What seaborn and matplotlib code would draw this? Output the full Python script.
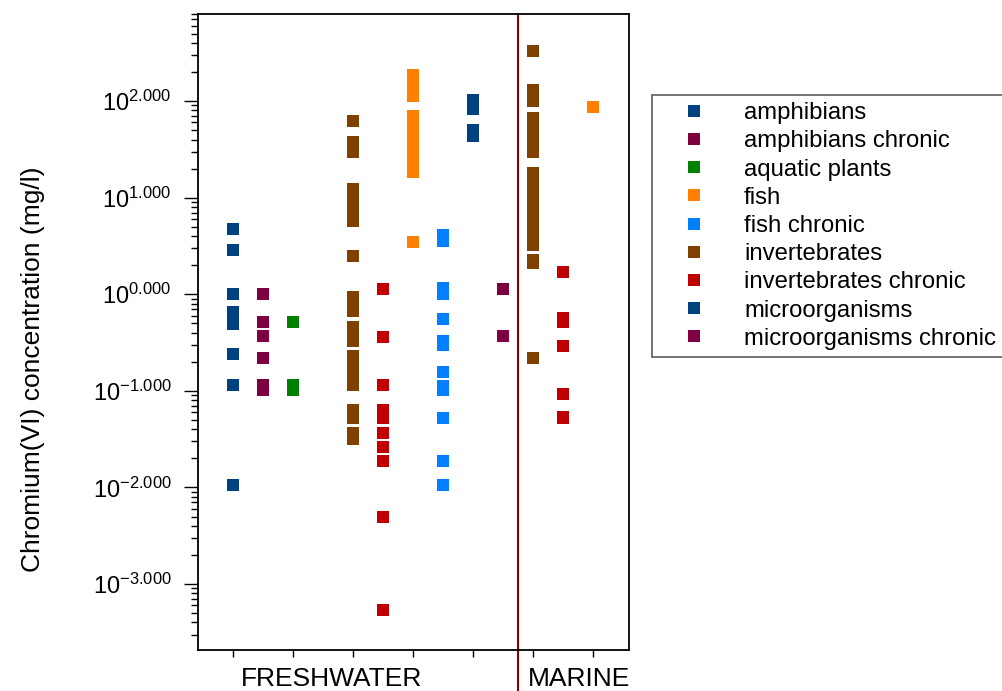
import numpy as np
import pandas as pd
import matplotlib
matplotlib.use("Agg")
import matplotlib.pyplot as plt
from matplotlib.lines import Line2D
from matplotlib.ticker import FuncFormatter, LogLocator, NullFormatter
import seaborn as sns

# species groups (legend order) and their colours
groups = ["amphibians", "amphibians chronic", "aquatic plants", "fish", "fish chronic",
          "invertebrates", "invertebrates chronic", "microorganisms", "microorganisms chronic"]
colors = ["#00427F", "#7F0040", "#008000", "#FF8000", "#0080FF",
          "#804000", "#C00000", "#00427F", "#7F0040"]

# order of the columns along the x axis (None = empty slot)
columns = [
    ("FRESHWATER", "amphibians"), ("FRESHWATER", "amphibians chronic"),
    ("FRESHWATER", "aquatic plants"), None,
    ("FRESHWATER", "invertebrates"), ("FRESHWATER", "invertebrates chronic"),
    ("FRESHWATER", "fish"), ("FRESHWATER", "fish chronic"),
    ("FRESHWATER", "microorganisms"), ("FRESHWATER", "microorganisms chronic"),
    ("MARINE", "invertebrates"), ("MARINE", "invertebrates chronic"), ("MARINE", "fish"),
]

# Cr(VI) concentrations, mg/l
fw_amphibians = [4.7, 2.9, 1.0, 0.66, 0.49, 0.24, 0.115, 0.0106]
fw_amphibians_chronic = [1.0, 0.52, 0.37, 0.22, 0.116, 0.102]
fw_aquatic_plants = [0.52, 0.116, 0.103]
fw_invertebrates = [62, 38, 34, 30, 12.2, 10.1, 8.4, 6.9, 5.7, 2.48, 0.94, 0.79, 0.67,
                    0.46, 0.39, 0.33, 0.229, 0.185, 0.149, 0.116, 0.063, 0.052, 0.0366, 0.0315]
fw_invertebrates_chronic = [1.14, 0.365, 0.115, 0.063, 0.052, 0.037, 0.0264, 0.019, 0.005, 0.00054]
fw_fish = [186, 157, 133, 113, 70, 58, 48, 39, 33, 27, 22, 18.4, 3.5]
fw_fish_chronic = [4.1, 3.6, 1.15, 1.0, 0.56, 0.33, 0.30, 0.158, 0.112, 0.102, 0.052, 0.019, 0.0106]
fw_microorganisms = [102, 92, 83, 50, 46, 43]
fw_microorganisms_chronic = [1.14, 0.37]
mar_invertebrates = [327, 129, 114, 101, 67, 55, 45, 38, 30, 18, 14.9, 12.3, 10.1, 8.4,
                     6.9, 5.7, 4.7, 3.9, 3.2, 2.28, 2.09, 0.22]
mar_invertebrates_chronic = [1.7, 0.57, 0.52, 0.29, 0.093, 0.053]
mar_fish = [87]

series = {
    ("FRESHWATER", "amphibians"): fw_amphibians,
    ("FRESHWATER", "amphibians chronic"): fw_amphibians_chronic,
    ("FRESHWATER", "aquatic plants"): fw_aquatic_plants,
    ("FRESHWATER", "invertebrates"): fw_invertebrates,
    ("FRESHWATER", "invertebrates chronic"): fw_invertebrates_chronic,
    ("FRESHWATER", "fish"): fw_fish,
    ("FRESHWATER", "fish chronic"): fw_fish_chronic,
    ("FRESHWATER", "microorganisms"): fw_microorganisms,
    ("FRESHWATER", "microorganisms chronic"): fw_microorganisms_chronic,
    ("MARINE", "invertebrates"): mar_invertebrates,
    ("MARINE", "invertebrates chronic"): mar_invertebrates_chronic,
    ("MARINE", "fish"): mar_fish,
}

rows = []
for key, vals in series.items():
    for v in vals:
        rows.append({"habitat": key[0], "group": key[1], "slot": columns.index(key), "value": v})
df = pd.DataFrame(rows)

sns.set_style("white")
plt.rcParams["font.family"] = ["Liberation Sans", "DejaVu Sans"]
plt.rcParams["mathtext.default"] = "regular"
plt.rcParams["text.color"] = "black"
plt.rcParams["axes.labelcolor"] = "black"
plt.rcParams["xtick.color"] = "black"
plt.rcParams["ytick.color"] = "black"

fig = plt.figure(figsize=(10.02, 6.91), dpi=100)
ax = fig.add_axes([0.1976, 0.0593, 0.4301, 0.9211])

palette = dict(zip(groups, colors))
sns.scatterplot(data=df, x="slot", y="value", hue="group", hue_order=groups,
                palette=palette, marker="s", s=75, linewidth=0, legend=False, ax=ax)

ax.set_yscale("log")
ax.set_ylim(10 ** -3.683, 10 ** 2.906)
ax.set_xlim(-1.17, 13.2)

ax.yaxis.set_major_locator(LogLocator(base=10, numticks=20))
ax.yaxis.set_minor_locator(LogLocator(base=10, subs=np.arange(2, 10), numticks=20))
ax.yaxis.set_major_formatter(FuncFormatter(lambda v, p: r"$\mathregular{10^{%.3f}}$" % np.log10(v)))
ax.yaxis.set_minor_formatter(NullFormatter())
ax.set_xticks(range(0, 13, 2))

ax.tick_params(axis="y", which="major", left=True, length=10, width=1, direction="out",
               labelsize=17, pad=9)
ax.tick_params(axis="y", which="minor", left=True, length=5, width=1, direction="out")
ax.tick_params(axis="x", which="major", bottom=True, labelbottom=False,
               length=5, width=1, direction="out")

for sp in ax.spines.values():
    sp.set_color("black")
    sp.set_linewidth(1.3)

ax.set_xlabel("")
ax.set_ylabel("Chromium(VI) concentration (mg/l)", fontsize=19)
ax.yaxis.set_label_coords(-0.355, 0.441)

# freshwater / marine divider
ax.axvline(9.5, ymin=-0.07, ymax=1, color="#8B0000", lw=1.5, clip_on=False)

xt = ax.get_xaxis_transform()
ax.text(3.27, -0.027, "FRESHWATER", transform=xt, ha="center", va="top", fontsize=19)
ax.text(11.55, -0.027, "MARINE", transform=xt, ha="center", va="top", fontsize=19)

handles = [Line2D([], [], marker="s", ls="", color=c, markersize=8.6, markeredgewidth=0)
           for c in colors]
leg = ax.legend(handles, groups, loc="upper left",
                bbox_to_anchor=(652 / 1002, 1 - 95 / 691), bbox_transform=fig.transFigure,
                frameon=True, fancybox=False, borderpad=0.3, borderaxespad=0,
                handlelength=2.9, handletextpad=0.65, labelspacing=0.26, fontsize=17.2)
leg.get_frame().set_edgecolor("#333333")
leg.get_frame().set_linewidth(1.2)

fig.savefig("out.png", dpi=100)
